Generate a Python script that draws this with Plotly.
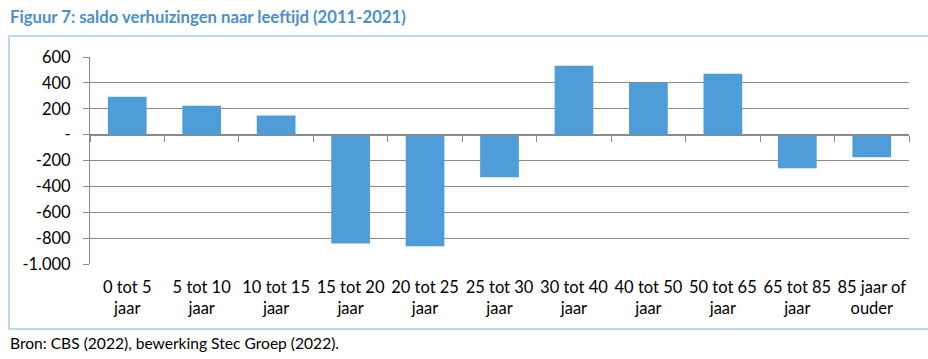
import plotly.graph_objects as go

categories = ["0 tot 5<br>jaar", "5 tot 10<br>jaar", "10 tot 15<br>jaar", "15 tot 20<br>jaar",
              "20 tot 25<br>jaar", "25 tot 30<br>jaar", "30 tot 40<br>jaar", "40 tot 50<br>jaar",
              "50 tot 65<br>jaar", "65 tot 85<br>jaar", "85 jaar of<br>ouder"]
saldo = [293, 224, 147, -842, -862, -330, 533, 399, 471, -260, -175]

y_tickvals = [600, 400, 200, 0, -200, -400, -600, -800, -1000]
y_ticktext = ["600", "400", "200", "-", "-200", "-400", "-600", "-800", "-1.000"]

title_text = "Figuur 7: saldo verhuizingen naar leeftijd (2011-2021)"
source_text = "Bron: CBS (2022), bewerking Stec Groep (2022)."

W, H = 928, 359
L, R, T, B = 90, 19, 57, 95
pw, ph = W - L - R, H - T - B

def px_x(p):
    return (p - L) / pw

def px_y(p):
    return (H - B - p) / ph

FONT = "Lato"
GRID = "#8a8a8a"

fig = go.Figure()
fig.add_trace(go.Bar(
    x=categories, y=saldo,
    marker=dict(color="#4f9dd8", line=dict(width=0)),
    width=0.52,
    showlegend=False,
))

fig.update_layout(
    width=W, height=H,
    margin=dict(l=L, r=R, t=T, b=B),
    paper_bgcolor="white", plot_bgcolor="white",
    font=dict(family=FONT, size=16.5, color="black"),
    xaxis=dict(type="category", range=[-0.5, 10.5], showgrid=False, showline=False,
               ticks="", zeroline=False, tickfont=dict(size=16.5),
               ticklabelstandoff=11),
    xaxis2=dict(overlaying="x", anchor="free", position=0.625, range=[-0.5, 10.5],
                showline=True, linecolor=GRID, linewidth=1, ticks="outside",
                ticklen=6, tickcolor=GRID, tickvals=[i - 0.5 for i in range(12)],
                showticklabels=False, showgrid=False, zeroline=False),
    yaxis=dict(range=[-1000, 600], tickvals=y_tickvals, ticktext=y_ticktext,
               showgrid=True, gridcolor=GRID, gridwidth=1, zeroline=False,
               showline=True, linecolor=GRID, linewidth=1, ticks="outside",
               ticklen=6, tickcolor=GRID, tickfont=dict(size=16.5),
               ticklabelstandoff=9),
    shapes=[dict(type="rect", xref="paper", yref="paper",
                 x0=px_x(9), x1=px_x(940), y0=px_y(329), y1=px_y(36),
                 line=dict(color="#a9cbe6", width=1.5), layer="below")],
    annotations=[
        dict(text="<b>" + title_text + "</b>", xref="paper", yref="paper",
             x=px_x(8), y=px_y(17), xanchor="left", yanchor="middle",
             showarrow=False, font=dict(family=FONT, size=16.7, color="#4a8fc9")),
        dict(text=source_text, xref="paper", yref="paper",
             x=px_x(8), y=px_y(343), xanchor="left", yanchor="middle",
             showarrow=False, font=dict(family=FONT, size=15.6, color="black")),
    ],
)
fig.add_trace(go.Scatter(x=[None], y=[None], xaxis="x2", showlegend=False))

fig.write_html("out.html", config={"displayModeBar": False},
               post_script="document.body.style.margin='0';document.body.style.overflow='hidden';")
